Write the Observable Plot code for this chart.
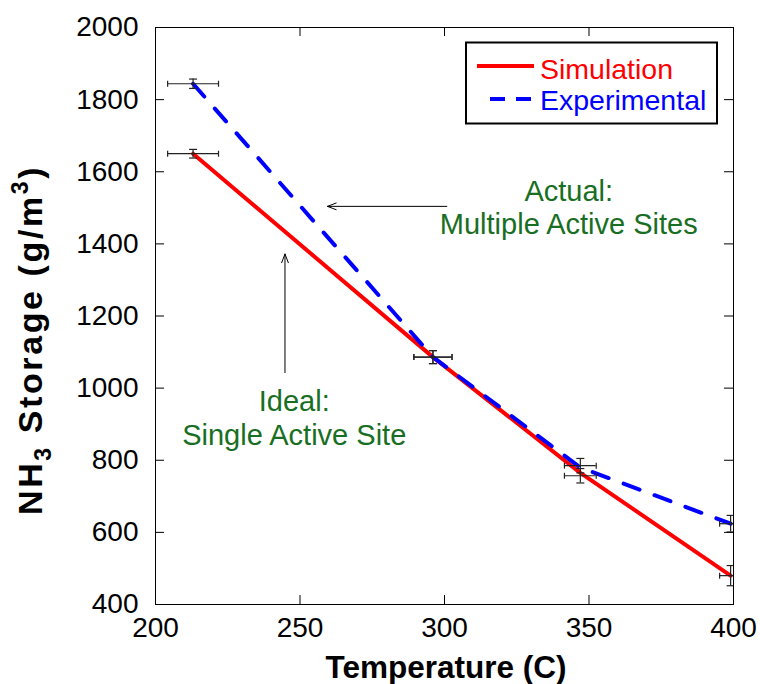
<!DOCTYPE html>
<html><head><meta charset="utf-8">
<script src="https://cdn.jsdelivr.net/npm/d3@7"></script>
<script src="https://cdn.jsdelivr.net/npm/@observablehq/plot@0.6"></script>
<style>html,body{margin:0;padding:0;background:#fff}svg{display:block}</style>
</head><body><div id="chart"></div>
<script>
// ---- data ----
const temperature = [213, 296, 347, 399];
const simulation = [1650, 1086, 765, 480];
const experimental = [1844, 1086, 780, 624];
const errTempHalf = [8.8, 6.6, 5.5, 3.8];
const simErrCenter = [1650, 1086, 757, 480];
const simErrHalf = [12, 18, 20, 28];
const expErrCenter = [1844, 1086, 785, 624];
const expErrHalf = [13, 18, 20, 23];
const xTicks = [200, 250, 300, 350, 400];
const yTicks = [400, 600, 800, 1000, 1200, 1400, 1600, 1800, 2000];
const seriesNames = ["Simulation", "Experimental"];
const noteTexts = ["Actual:\nMultiple Active Sites", "Ideal:\nSingle Active Site"];
const noteX = [343, 248];
const noteY = [1503, 919];
const arrowFromX = [300.8, 244.8], arrowFromY = [1504, 1043];
const arrowToX = [259.5, 244.8], arrowToY = [1504, 1372];

// ---- tables ----
const simRows = temperature.map((t, i) => ({t, v: simulation[i]}));
const expRows = temperature.map((t, i) => ({t, v: experimental[i]}));
const errRows = [
  ...temperature.map((t, i) => ({t, y: expErrCenter[i], dx: errTempHalf[i], dy: expErrHalf[i]})),
  ...temperature.map((t, i) => ({t, y: simErrCenter[i], dx: errTempHalf[i], dy: simErrHalf[i]}))
];
const hCaps = errRows.flatMap(d => [{x: d.t - d.dx, y: d.y}, {x: d.t + d.dx, y: d.y}]);
const vCaps = errRows.flatMap(d => [{x: d.t, y: d.y - d.dy}, {x: d.t, y: d.y + d.dy}]);
const notes = noteTexts.map((s, i) => ({s, x: noteX[i], y: noteY[i]}));
const arrows = arrowFromX.map((x, i) => ({x1: x, y1: arrowFromY[i], x2: arrowToX[i], y2: arrowToY[i]}));

const vbar = {draw(ctx, size) { const r = Math.sqrt(size / Math.PI); ctx.moveTo(0, -r); ctx.lineTo(0, r); }};
const hbar = {draw(ctx, size) { const r = Math.sqrt(size / Math.PI); ctx.moveTo(-r, 0); ctx.lineTo(r, 0); }};

const W = 760, H = 684, mL = 155, mR = 27, mT = 27, mB = 80;
const pW = W - mL - mR, pH = H - mT - mB, tk = 9;
const font = "'Liberation Sans', Arial, Helvetica, sans-serif";
const errColor = "#222";

const chart = Plot.plot({
  width: W, height: H,
  marginLeft: mL, marginRight: mR, marginTop: mT, marginBottom: mB,
  style: {fontFamily: font, background: "#fff", color: "#000"},
  x: {domain: [200, 400]},
  y: {domain: [400, 2000]},
  marks: [
    Plot.axisX({ticks: xTicks, tickSize: 0, tickPadding: 13, fontSize: 28, label: null, tickFormat: d => String(d)}),
    Plot.axisY({ticks: yTicks, tickSize: 0, tickPadding: 17, fontSize: 28, label: null, tickFormat: d => String(d)}),
    Plot.line(simRows, {x: "t", y: "v", stroke: "#ff0000", strokeWidth: 4}),
    Plot.line(expRows, {x: "t", y: "v", stroke: "#0000ff", strokeWidth: 4, strokeDasharray: "17,16"}),
    Plot.ruleY(errRows, {y: "y", x1: d => d.t - d.dx, x2: d => d.t + d.dx, stroke: errColor, strokeWidth: 1.2, clip: true}),
    Plot.ruleX(errRows, {x: "t", y1: d => d.y - d.dy, y2: d => d.y + d.dy, stroke: errColor, strokeWidth: 1.2, clip: true}),
    Plot.dot(hCaps, {x: "x", y: "y", symbol: vbar, r: 3, fill: "none", stroke: errColor, strokeWidth: 1.2, clip: true}),
    Plot.dot(vCaps, {x: "x", y: "y", symbol: hbar, r: 4, fill: "none", stroke: errColor, strokeWidth: 1.2, clip: true}),
    Plot.arrow(arrows, {x1: "x1", y1: "y1", x2: "x2", y2: "y2", stroke: "#000", strokeWidth: 1, headLength: 14, headAngle: 42}),
    Plot.text(notes, {x: "x", y: "y", text: "s", fill: "#186e22", fontSize: 29, lineHeight: 1.15, textAnchor: "middle"}),
    Plot.frame({stroke: "#000", strokeWidth: 1}),
    Plot.tickX(xTicks, {x: d => d, insetTop: pH - tk, stroke: "#000"}),
    Plot.tickX(xTicks, {x: d => d, insetBottom: pH - tk, stroke: "#000"}),
    Plot.tickY(yTicks, {y: d => d, insetRight: pW - tk, stroke: "#000"}),
    Plot.tickY(yTicks, {y: d => d, insetLeft: pW - tk, stroke: "#000"})
  ]
});
document.getElementById("chart").appendChild(chart);

// ---- labels & legend ----
const svg = d3.select(chart);
svg.append("text").attr("x", mL + pW / 2 + 2).attr("y", 678).attr("text-anchor", "middle")
  .attr("font-family", font).attr("font-size", 31.5).attr("font-weight", "bold").attr("fill", "#000")
  .text("Temperature (C)");
const yl = svg.append("text").attr("transform", "translate(42,515) rotate(-90)").attr("text-anchor", "start")
  .attr("font-family", font).attr("font-size", 34).attr("font-weight", "bold").attr("fill", "#000")
  .attr("letter-spacing", 2.6);
yl.append("tspan").text("NH");
yl.append("tspan").attr("font-size", 23).attr("dy", 9).text("3");
yl.append("tspan").attr("dy", -9).text(" Storage (g/m");
yl.append("tspan").attr("font-size", 23).attr("dy", -14).text("3");
yl.append("tspan").attr("dy", 14).text(")");

const lg = svg.append("g");
lg.append("rect").attr("x", 466).attr("y", 42.5).attr("width", 251).attr("height", 81)
  .attr("fill", "#fff").attr("stroke", "#000").attr("stroke-width", 2);
lg.append("line").attr("x1", 477).attr("x2", 534).attr("y1", 66).attr("y2", 66)
  .attr("stroke", "#ff0000").attr("stroke-width", 4);
lg.append("line").attr("x1", 490).attr("x2", 532).attr("y1", 99).attr("y2", 99)
  .attr("stroke", "#0000ff").attr("stroke-width", 4).attr("stroke-dasharray", "15,11");
[["#ff0000", 78.5], ["#0000ff", 110]].forEach(([c, y], i) => {
  lg.append("text").attr("x", 540).attr("y", y).attr("text-anchor", "start").attr("font-family", font)
    .attr("font-size", 28.5).attr("fill", c).text(seriesNames[i]);
});
</script>
</body></html>
